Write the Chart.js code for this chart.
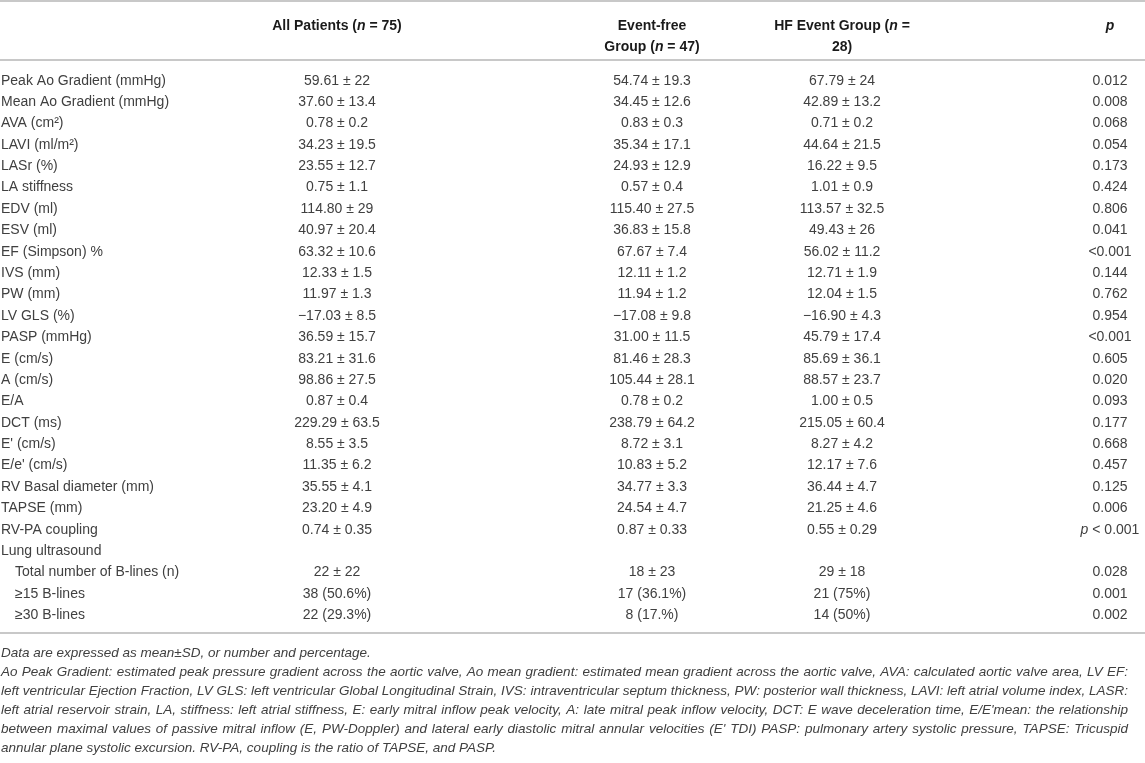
<!DOCTYPE html>
<html>
<head>
<meta charset="utf-8">
<script src="https://cdn.jsdelivr.net/npm/chart.js@4.4.1/dist/chart.umd.min.js"></script>
<style>
  html, body { margin: 0; padding: 0; background: #ffffff; }
  #wrap { width: 1145px; height: 763px; position: relative; }
</style>
</head>
<body>
<div id="wrap"><canvas id="tableChart"></canvas></div>
<script>
// Row labels (left column)
const rowLabels = [
  'Peak Ao Gradient (mmHg)', 'Mean Ao Gradient (mmHg)', 'AVA (cm²)', 'LAVI (ml/m²)',
  'LASr (%)', 'LA stiffness', 'EDV (ml)', 'ESV (ml)', 'EF (Simpson) %', 'IVS (mm)',
  'PW (mm)', 'LV GLS (%)', 'PASP (mmHg)', 'E (cm/s)', 'A (cm/s)', 'E/A', 'DCT (ms)',
  "E' (cm/s)", "E/e' (cm/s)", 'RV Basal diameter (mm)', 'TAPSE (mm)', 'RV-PA coupling',
  'Lung ultrasound', 'Total number of B-lines (n)', '≥15 B-lines', '≥30 B-lines'
];
// rows shown indented under "Lung ultrasound"
const subRows = ['Total number of B-lines (n)', '≥15 B-lines', '≥30 B-lines'];

const allPatients = [
  '59.61 ± 22', '37.60 ± 13.4', '0.78 ± 0.2', '34.23 ± 19.5', '23.55 ± 12.7', '0.75 ± 1.1',
  '114.80 ± 29', '40.97 ± 20.4', '63.32 ± 10.6', '12.33 ± 1.5', '11.97 ± 1.3', '−17.03 ± 8.5',
  '36.59 ± 15.7', '83.21 ± 31.6', '98.86 ± 27.5', '0.87 ± 0.4', '229.29 ± 63.5', '8.55 ± 3.5',
  '11.35 ± 6.2', '35.55 ± 4.1', '23.20 ± 4.9', '0.74 ± 0.35', '', '22 ± 22', '38 (50.6%)', '22 (29.3%)'
];
const eventFree = [
  '54.74 ± 19.3', '34.45 ± 12.6', '0.83 ± 0.3', '35.34 ± 17.1', '24.93 ± 12.9', '0.57 ± 0.4',
  '115.40 ± 27.5', '36.83 ± 15.8', '67.67 ± 7.4', '12.11 ± 1.2', '11.94 ± 1.2', '−17.08 ± 9.8',
  '31.00 ± 11.5', '81.46 ± 28.3', '105.44 ± 28.1', '0.78 ± 0.2', '238.79 ± 64.2', '8.72 ± 3.1',
  '10.83 ± 5.2', '34.77 ± 3.3', '24.54 ± 4.7', '0.87 ± 0.33', '', '18 ± 23', '17 (36.1%)', '8 (17.%)'
];
const hfEvent = [
  '67.79 ± 24', '42.89 ± 13.2', '0.71 ± 0.2', '44.64 ± 21.5', '16.22 ± 9.5', '1.01 ± 0.9',
  '113.57 ± 32.5', '49.43 ± 26', '56.02 ± 11.2', '12.71 ± 1.9', '12.04 ± 1.5', '−16.90 ± 4.3',
  '45.79 ± 17.4', '85.69 ± 36.1', '88.57 ± 23.7', '1.00 ± 0.5', '215.05 ± 60.4', '8.27 ± 4.2',
  '12.17 ± 7.6', '36.44 ± 4.7', '21.25 ± 4.6', '0.55 ± 0.29', '', '29 ± 18', '21 (75%)', '14 (50%)'
];
const pValues = [
  '0.012', '0.008', '0.068', '0.054', '0.173', '0.424', '0.806', '0.041', '<0.001', '0.144',
  '0.762', '0.954', '<0.001', '0.605', '0.020', '0.093', '0.177', '0.668', '0.457', '0.125',
  '0.006', 'p < 0.001', '', '0.028', '0.001', '0.002'
];

// Header text, per column: lines of [text, italic] runs
const headers = [
  [[['All Patients (', 0], ['n', 1], [' = 75)', 0]]],
  [[['Event-free', 0]], [['Group (', 0], ['n', 1], [' = 47)', 0]]],
  [[['HF Event Group (', 0], ['n', 1], [' =', 0]], [['28)', 0]]],
  [[['p', 1]]]
];

const footnotes = [
  'Data are expressed as mean±SD, or number and percentage.',
  'Ao Peak Gradient: estimated peak pressure gradient across the aortic valve, Ao mean gradient: estimated mean gradient across the aortic valve, AVA: calculated aortic valve area, LV EF:',
  'left ventricular Ejection Fraction, LV GLS: left ventricular Global Longitudinal Strain, IVS: intraventricular septum thickness, PW: posterior wall thickness, LAVI: left atrial volume index, LASR:',
  "left atrial reservoir strain, LA, stiffness: left atrial stiffness, E: early mitral inflow peak velocity, A: late mitral peak inflow velocity, DCT: E wave deceleration time, E/E'mean: the relationship",
  "between maximal values of passive mitral inflow (E, PW-Doppler) and lateral early diastolic mitral annular velocities (E' TDI) PASP: pulmonary artery systolic pressure, TAPSE: Tricuspid",
  'annular plane systolic excursion. RV-PA, coupling is the ratio of TAPSE, and PASP.'
];

const FAMILY = '"Liberation Sans", Arial, Helvetica, sans-serif';
const colCenters = [337, 652, 842, 1110];   // x positions on the hidden x scale
const columns = [allPatients, eventFree, hfEvent, pValues];

function font(size, bold, italic) {
  return (italic ? 'italic ' : '') + (bold ? 'bold ' : '') + size + 'px ' + FAMILY;
}

// draw a list of [text, italic] runs centred on x
function drawRuns(ctx, runs, x, y, size, bold, color) {
  let total = 0;
  runs.forEach(r => { ctx.font = font(size, bold, r[1]); total += ctx.measureText(r[0]).width; });
  let cx = x - total / 2;
  ctx.fillStyle = color;
  ctx.textAlign = 'left';
  ctx.textBaseline = 'middle';
  runs.forEach(r => {
    ctx.font = font(size, bold, r[1]);
    ctx.fillText(r[0], cx, y);
    cx += ctx.measureText(r[0]).width;
  });
}

// footnote lines are justified to the table width
function drawJustified(ctx, text, x, y, width) {
  const words = text.split(' ');
  const spaceW = ctx.measureText(' ').width;
  const wordsW = words.reduce((s, w) => s + ctx.measureText(w).width, 0);
  const natural = wordsW + spaceW * (words.length - 1);
  ctx.save();
  let gap = spaceW;
  if (natural > width) {
    ctx.translate(x, y);
    ctx.scale(width / natural, 1);
    ctx.translate(-x, -y);
  } else {
    gap = (width - wordsW) / (words.length - 1);
  }
  let cx = x;
  words.forEach(w => { ctx.fillText(w, cx, y); cx += ctx.measureText(w).width + gap; });
  ctx.restore();
}

const tablePlugin = {
  id: 'tablePlugin',
  afterDraw(chart) {
    const ctx = chart.ctx;
    const xs = chart.scales.x;
    const ys = chart.scales.y;
    const area = chart.chartArea;
    const left = xs.getPixelForValue(0);
    const right = xs.getPixelForValue(1145);
    const rowH = ys.getPixelForValue(1) - ys.getPixelForValue(0);

    ctx.save();
    // rules
    ctx.strokeStyle = '#c8c8c8';
    ctx.lineWidth = 2;
    [1, area.top - 10, area.bottom + 7].forEach(yy => {
      ctx.beginPath(); ctx.moveTo(left, yy); ctx.lineTo(right, yy); ctx.stroke();
    });

    // header
    const h1 = area.top - 44;
    headers.forEach((lines, c) => {
      lines.forEach((runs, li) => {
        drawRuns(ctx, runs, xs.getPixelForValue(colCenters[c]), h1 + li * rowH, 14, true, '#1a1a1a');
      });
    });

    // body
    rowLabels.forEach((label, i) => {
      const y = ys.getPixelForValue(i);
      ctx.font = font(14, false, false);
      ctx.fillStyle = '#404040';
      ctx.textAlign = 'left';
      ctx.textBaseline = 'middle';
      ctx.fillText(label, left + (subRows.includes(label) ? 15 : 1), y);
      columns.forEach((col, c) => {
        const v = col[i];
        if (!v) return;
        const runs = v.startsWith('p ') ? [['p', 1], [v.slice(1), 0]] : [[v, 0]];
        drawRuns(ctx, runs, xs.getPixelForValue(colCenters[c]), y, 14, false, '#404040');
      });
    });

    // footnotes
    ctx.font = font(13.5, false, true);
    ctx.fillStyle = '#404040';
    ctx.textAlign = 'left';
    ctx.textBaseline = 'middle';
    const f0 = area.bottom + 27;
    footnotes.forEach((line, i) => {
      const y = f0 + i * 19;
      if (i === 0 || i === footnotes.length - 1) ctx.fillText(line, left + 1, y);
      else drawJustified(ctx, line, left + 1, y, 1127);
    });
    ctx.restore();
  }
};

new Chart(document.getElementById('tableChart'), {
  type: 'scatter',
  data: { datasets: [] },
  options: {
    responsive: true,
    maintainAspectRatio: false,
    animation: false,
    layout: { padding: { top: 70, bottom: 137, left: 0, right: 0 } },
    plugins: { legend: { display: false }, tooltip: { enabled: false } },
    scales: {
      x: { type: 'linear', min: 0, max: 1145, display: false },
      y: { type: 'category', labels: rowLabels, offset: true, display: false }
    }
  },
  plugins: [tablePlugin]
});
</script>
</body>
</html>
